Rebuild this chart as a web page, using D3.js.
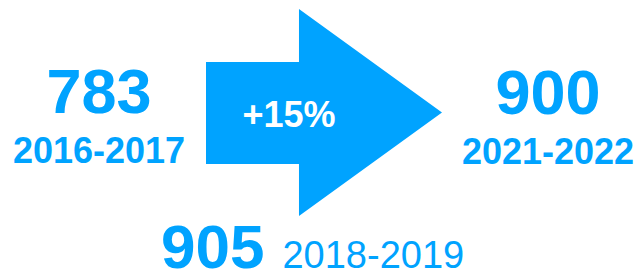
<!DOCTYPE html>
<html lang="en">
<head>
  <meta charset="UTF-8">
  <title>Growth</title>
  <script src="https://d3js.org/d3.v7.min.js"></script>
  <style>
    body { margin: 0; background: #fff; }
    text { font-family: 'Liberation Sans', Arial, sans-serif; }
  </style>
</head>
<body>
  <div id="chart"></div>
  <script>
    // Data
    const periods = ["2016-2017", "2018-2019", "2021-2022"];
    const values = [783, 905, 900];
    const changeLabel = "+15%";

    const width = 639, height = 280;
    const blue = "#00a3ff";

    const svg = d3.select("#chart").append("svg")
      .attr("width", width)
      .attr("height", height);

    // arrow is laid out in a unit box, mapped to pixels with scales
    const ax = d3.scaleLinear().domain([0, 1]).range([206, 442]);
    const ay = d3.scaleLinear().domain([0, 1]).range([9, 216]);
    const shaft = [0.256, 0.749], headStart = 0.394;
    const arrowPts = [
      [0, shaft[0]], [headStart, shaft[0]], [headStart, 0], [1, 0.5],
      [headStart, 1], [headStart, shaft[1]], [0, shaft[1]]
    ];
    svg.append("path")
      .attr("d", d3.line().x(d => ax(d[0])).y(d => ay(d[1]))(arrowPts) + "Z")
      .attr("fill", blue);

    svg.append("text")
      .attr("x", 289).attr("y", 127)
      .attr("text-anchor", "middle")
      .attr("font-weight", "bold")
      .attr("font-size", 36)
      .attr("fill", "#fff")
      .text(changeLabel);

    // left (first period) and right (last period)
    const side = [
      { v: values[0], p: periods[0], cx: 99, y: 113 },
      { v: values[2], p: periods[2], cx: 548, y: 114 }
    ];
    const g = svg.append("g").selectAll("g").data(side).enter().append("g");
    g.append("text")
      .attr("x", d => d.cx).attr("y", d => d.y)
      .attr("text-anchor", "middle")
      .attr("font-weight", "bold")
      .attr("font-size", 63)
      .attr("fill", blue)
      .text(d => d.v);
    g.append("text")
      .attr("x", d => d.cx).attr("y", d => d.y + 50)
      .attr("text-anchor", "middle")
      .attr("font-weight", "bold")
      .attr("font-size", 36)
      .attr("fill", blue)
      .text(d => d.p);

    // bottom peak
    const bottom = svg.append("text")
      .attr("x", 161).attr("y", 268)
      .attr("fill", blue);
    bottom.append("tspan")
      .attr("font-weight", "bold")
      .attr("font-size", 62)
      .text(values[1]);
    bottom.append("tspan")
      .attr("font-size", 38)
      .attr("dx", 18)
      .text(periods[1]);
  </script>
</body>
</html>
